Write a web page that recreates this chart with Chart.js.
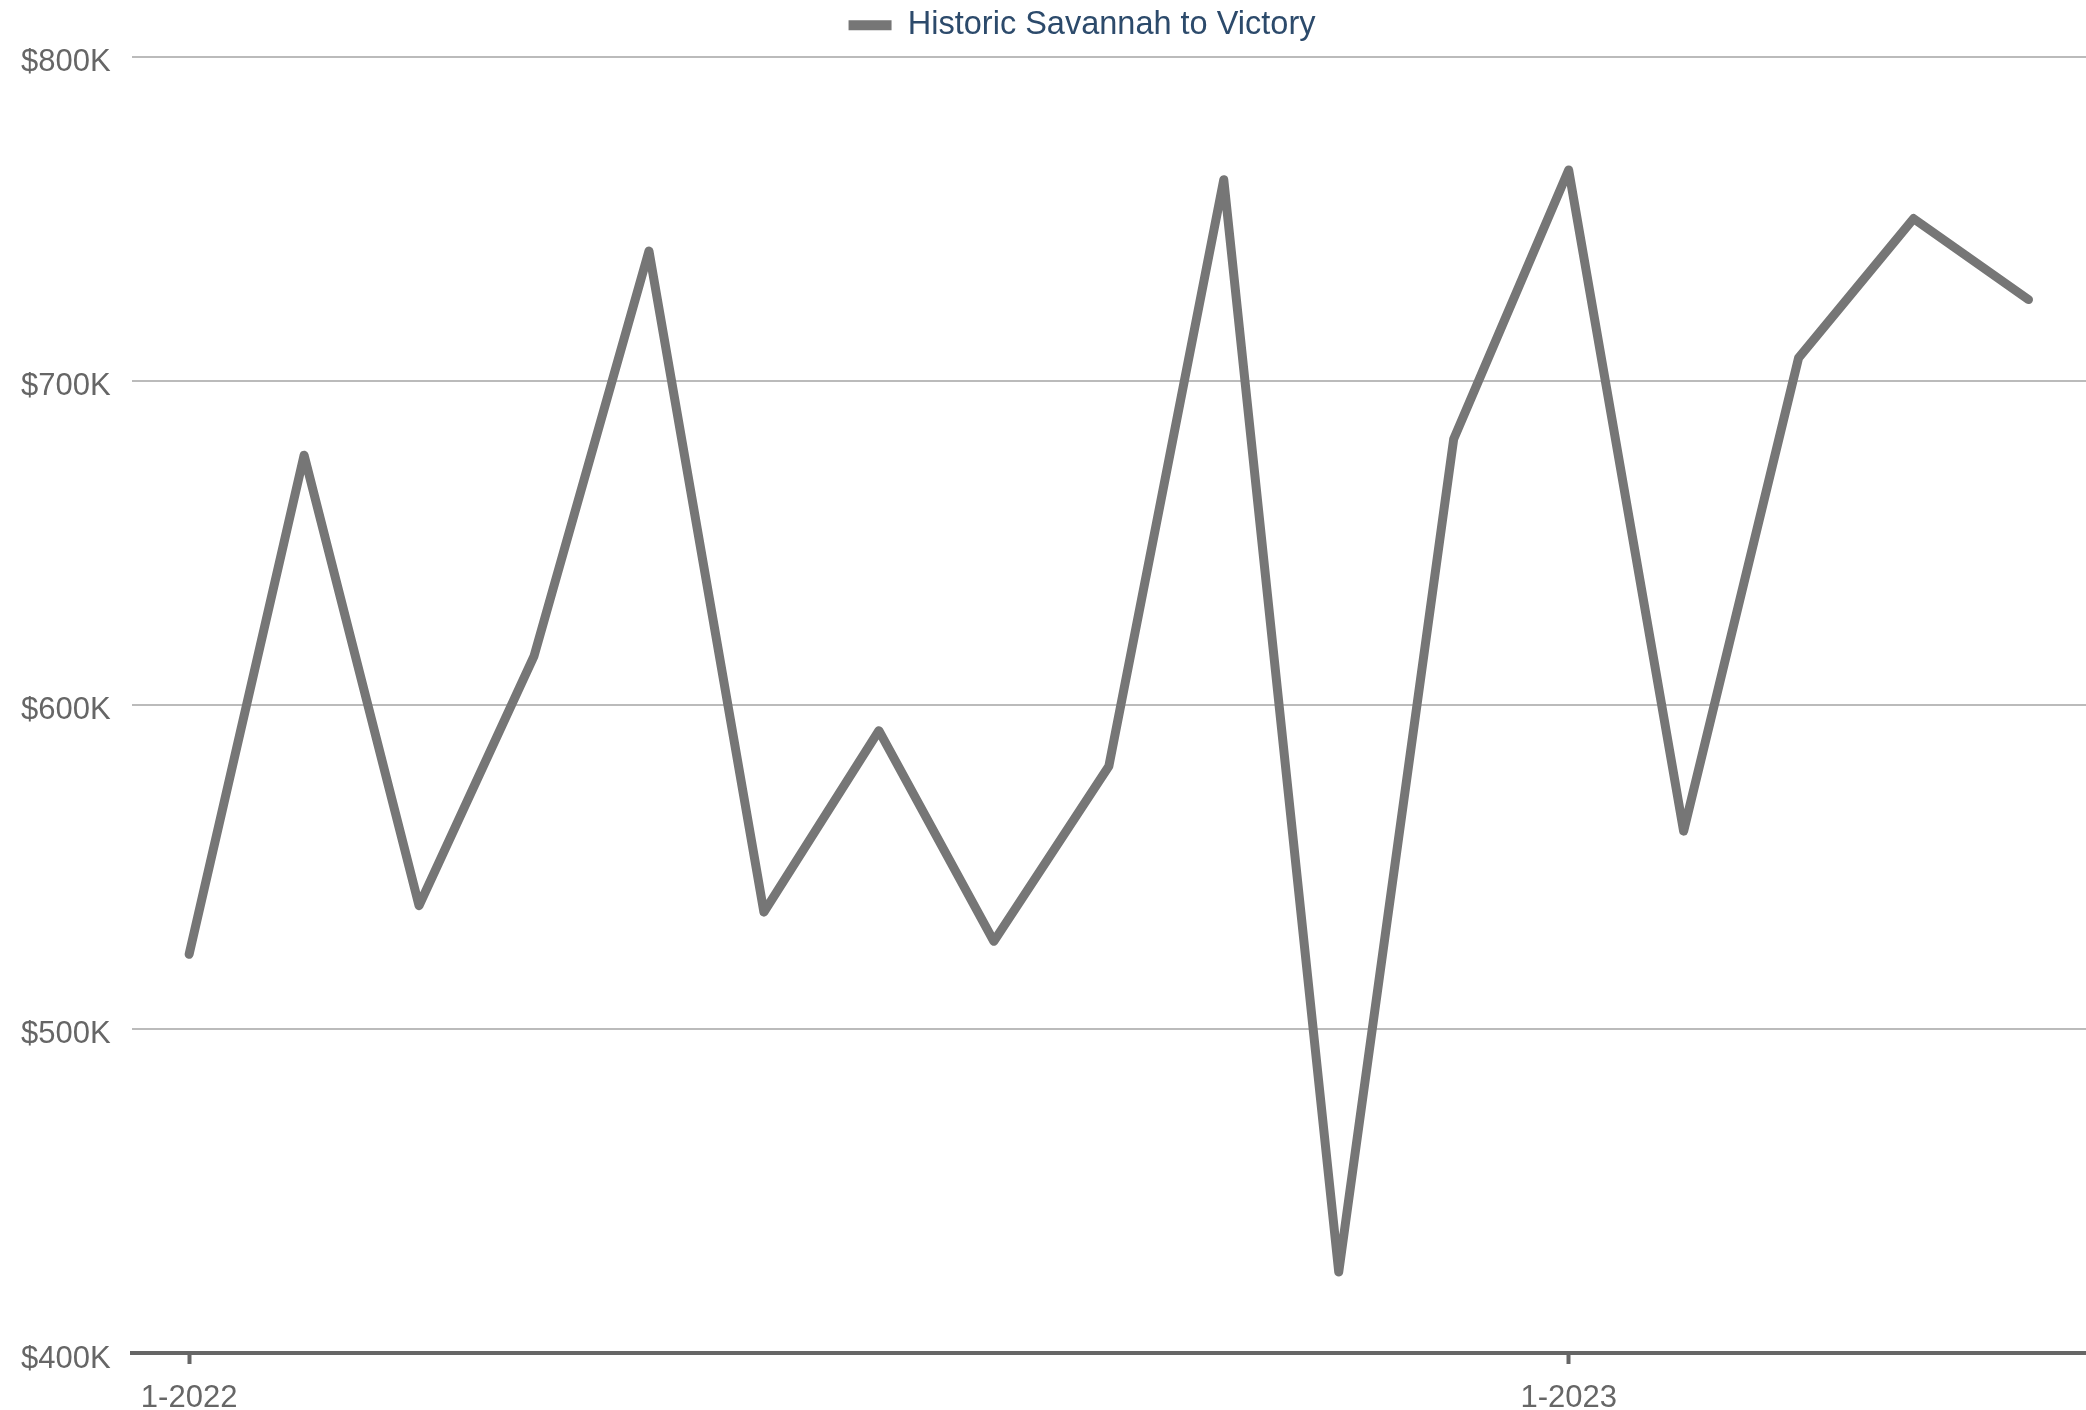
<!DOCTYPE html>
<html>
<head>
<meta charset="utf-8">
<script src="https://cdn.jsdelivr.net/npm/chart.js@4/dist/chart.umd.min.js"></script>
<style>
  html, body { margin: 0; padding: 0; background: #fff; }
  #wrap { width: 2086px; height: 1410px; }
</style>
</head>
<body>
<div id="wrap"><canvas id="myChart"></canvas></div>
<script>
// months jan 2022 -> may 2023
const months = ['1-2022','2-2022','3-2022','4-2022','5-2022','6-2022','7-2022','8-2022','9-2022','10-2022','11-2022','12-2022',
                '1-2023','2-2023','3-2023','4-2023','5-2023']
// median price, in $K
const prices = [523, 677, 538, 615, 740, 536, 592, 527, 581, 762, 425, 682, 765, 561, 707, 750, 725]
const seriesName = 'Historic Savannah to Victory'
const yTicks = [400, 500, 600, 700, 800]

const fontFam = '"Liberation Sans", Arial, sans-serif'

// legend sits a bit right of center and a bit higher in the original
const nudgeLegend = {
  id: 'nudgeLegend',
  afterLayout(chart) {
    const lg = chart.legend
    lg.left += 39; lg.right += 39
    lg.top -= 5; lg.bottom -= 5
  }
}

const data = {
  labels: months,
  datasets: [{
    label: seriesName,
    data: prices,
    borderColor: '#767676',
    backgroundColor: '#767676',
    borderWidth: 9,
    borderJoinStyle: 'round',
    borderCapStyle: 'round',
    pointRadius: 0,
    tension: 0
  }]
}

const config = {
  type: 'line',
  data: data,
  plugins: [nudgeLegend],
  options: {
    responsive: true,
    maintainAspectRatio: false,
    animation: false,
    layout: { padding: { left: 0, right: 0, top: 4, bottom: 0 } },
    plugins: {
      tooltip: { enabled: false },
      legend: {
        position: 'top',
        labels: {
          color: '#2c4a6b',
          font: { family: fontFam, size: 32.5 },
          boxWidth: 43,
          boxHeight: 10,
          padding: 10,
          generateLabels: (chart) => {
            let items = Chart.defaults.plugins.legend.labels.generateLabels(chart)
            items.forEach(it => { it.lineWidth = 0; it.fillStyle = '#767676' })
            return items
          }
        }
      }
    },
    scales: {
      x: {
        offset: true,
        afterFit: (axis) => { axis.height = 57 },
        border: { display: true, color: '#666', width: 4 },
        grid: {
          drawOnChartArea: false,
          tickLength: 11,
          tickWidth: 4,
          offset: false,
          color: (ctx) => (ctx.tick && months[ctx.index] && months[ctx.index].startsWith('1-')) ? '#666' : 'rgba(0,0,0,0)'
        },
        ticks: {
          autoSkip: false,
          maxRotation: 0,
          color: '#666',
          font: { family: fontFam, size: 31 },
          padding: 16,
          callback: (v, i) => months[i].startsWith('1-') ? months[i] : ''
        }
      },
      y: {
        min: 400,
        max: 800,
        border: { display: false },
        grid: { color: '#bbb', lineWidth: 2, drawTicks: false },
        afterBuildTicks: (axis) => { axis.ticks = yTicks.map(v => ({ value: v })) },
        ticks: {
          color: '#666',
          font: { family: fontFam, size: 31 },
          padding: 21,
          labelOffset: 6,
          callback: (v) => '$' + v + 'K'
        }
      }
    }
  }
}

const myChart = new Chart(document.getElementById('myChart'), config)
</script>
</body>
</html>
